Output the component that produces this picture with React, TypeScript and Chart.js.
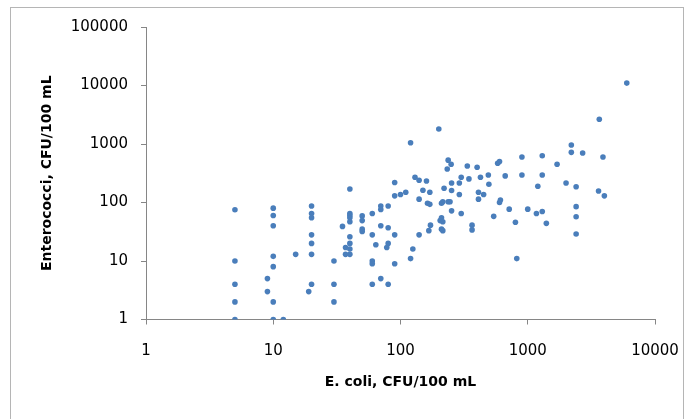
import React, { useEffect, useRef } from "react";
import { Chart, registerables } from "chart.js";

Chart.register(...registerables);

// E. coli (CFU/100 mL)
const ecoli: number[] = [
  5, 5, 5, 5, 5,
  10, 10, 10, 10, 10, 10, 10,
  9, 9, 12, 15,
  20, 20, 20, 20, 20, 20, 20, 19,
  30, 30, 30, 35,
  40, 40, 40, 40, 40, 40, 40, 40, 40, 37, 37,
  50, 50, 50, 50,
  60, 60, 64, 60, 60, 60,
  70, 80,
  70, 70, 80, 70, 80, 90, 80, 78, 90,
  90, 90, 100, 110,
  120, 200,
  130, 140, 160, 150, 170, 140,
  163, 170, 172, 167, 140, 120, 125,
  210, 215, 237, 245,
  205, 210, 215, 210, 215,
  220, 237, 250, 233, 252, 252,
  290, 300, 290, 300, 252,
  335, 345, 400, 425, 490, 495,
  410, 450, 410, 365, 365,
  540, 580, 600, 600, 610, 665, 715,
  800, 820,
  900, 900, 1000, 1170, 1300, 1300, 1300, 1200, 1400,
  1700, 2000, 2200, 2200, 2700, 2400, 2400, 2400, 2400,
  3600, 3650, 3900, 4000, 6000,
];

// Enterococci (CFU/100 mL)
const enterococci: number[] = [
  75, 10, 4, 2, 1,
  80, 60, 40, 12, 8, 2, 1,
  5, 3, 1, 13,
  87, 65, 55, 28, 20, 13, 4, 3,
  10, 4, 2, 39,
  170, 65, 60, 55, 47, 26, 20, 16, 13, 17, 13,
  59, 49, 35, 32,
  65, 28, 19, 10, 9, 4,
  5, 4,
  87, 76, 87, 40, 37, 28, 20, 17, 9,
  220, 130, 137, 150,
  1050, 1800,
  270, 240, 233, 162, 150, 114,
  97, 93, 41, 33, 28, 11, 16,
  97, 103, 103, 103,
  49, 55, 47, 35, 33,
  175, 530, 450, 374, 215, 160,
  215, 270, 137, 65, 72,
  420, 253, 400, 270, 295, 205,
  150, 137, 114, 41, 34,
  58, 470, 500, 100, 110, 285, 77,
  46, 11,
  600, 295, 77, 65, 70, 630, 295, 190, 44,
  450, 215, 960, 720, 700, 186, 85, 57, 29,
  157, 2650, 600, 130, 11000,
];

const xTickValues: number[] = [1, 10, 100, 1000, 10000];
const yTickValues: number[] = [1, 10, 100, 1000, 10000, 100000];

const xTitle = "E. coli, CFU/100 mL";
const yTitle = "Enterococci, CFU/100 mL";

export default function App() {
  const ref = useRef<HTMLCanvasElement | null>(null);

  useEffect(() => {
    if (!ref.current) return;
    const points = ecoli.map((x, i) => ({ x, y: enterococci[i] }));
    const tickFont = { family: "DejaVu Sans", size: 15 };
    const titleFont = { family: "DejaVu Sans", size: 14, weight: "bold" as const };
    const frame = {
      id: "frame",
      beforeDraw(chart: any) {
        const c = chart.ctx;
        c.save();
        c.fillStyle = "#ffffff";
        c.fillRect(0, 0, chart.width, chart.height);
        c.strokeStyle = "#b5b5b5";
        c.lineWidth = 1;
        c.strokeRect(10.5, 7.5, 673, 440);
        c.restore();
      },
    };
    const chart = new Chart(ref.current, {
      type: "scatter",
      data: {
        datasets: [
          {
            data: points,
            backgroundColor: "#4a7ebb",
            borderColor: "#4a7ebb",
            borderWidth: 0,
            pointRadius: 2.8,
            pointHoverRadius: 2.8,
          },
        ],
      },
      options: {
        animation: false,
        responsive: false,
        devicePixelRatio: 1,
        layout: { padding: { left: 0, top: 27, right: 31, bottom: 0 } },
        plugins: { legend: { display: false }, tooltip: { enabled: false } },
        scales: {
          x: {
            type: "logarithmic",
            min: 1,
            max: 10000,
            afterBuildTicks: (s: any) => {
              s.ticks = xTickValues.map((v) => ({ value: v }));
            },
            afterFit: (s: any) => {
              s.height = 99.5;
              s.paddingLeft = 0;
              s.paddingRight = 0;
            },
            ticks: {
              callback: (v: any) => String(v),
              font: tickFont,
              color: "#000",
              padding: 18,
              maxRotation: 0,
              autoSkip: false,
            },
            grid: {
              display: true,
              drawOnChartArea: false,
              drawTicks: true,
              tickLength: 5,
              color: "#868686",
            },
            border: { display: true, color: "#868686", width: 1 },
            title: {
              display: true,
              text: xTitle,
              font: titleFont,
              color: "#000",
              padding: { top: 0, bottom: 28.6 },
            },
          },
          y: {
            type: "logarithmic",
            min: 1,
            max: 100000,
            afterBuildTicks: (s: any) => {
              s.ticks = yTickValues.map((v) => ({ value: v }));
            },
            afterFit: (s: any) => {
              s.width = 146;
              s.paddingTop = 0;
              s.paddingBottom = 0;
            },
            ticks: {
              callback: (v: any) => String(v),
              font: tickFont,
              color: "#000",
              padding: 13,
              autoSkip: false,
            },
            grid: {
              display: true,
              drawOnChartArea: false,
              drawTicks: true,
              tickLength: 5,
              color: "#868686",
            },
            border: { display: true, color: "#868686", width: 1 },
            title: {
              display: true,
              text: yTitle,
              font: titleFont,
              color: "#000",
              padding: { top: 38.6, bottom: 0 },
            },
          },
        },
      },
      plugins: [frame],
    } as any);
    return () => chart.destroy();
  }, []);

  return (
    <div style={{ position: "fixed", left: 0, top: 0, width: 686, height: 419 }}>
      <canvas ref={ref} width={686} height={419} style={{ width: 686, height: 419, display: "block" }} />
    </div>
  );
}
